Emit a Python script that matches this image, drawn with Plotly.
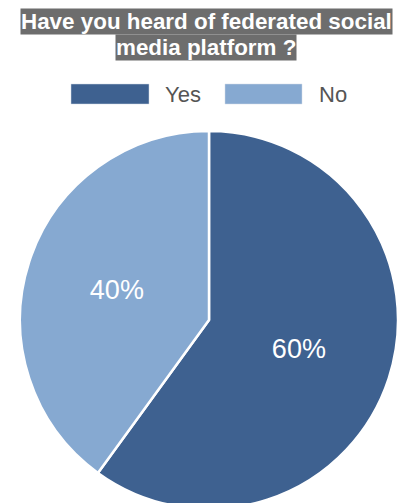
import plotly.graph_objects as go

title_lines = ["Have you heard of federated social", "media platform ?"]
categories = ["Yes", "No"]
values = [60, 40]
colors = ["#3e6190", "#86a9d1"]

W, H = 412, 512
FONT = "Liberation Sans, Arial, Helvetica, sans-serif"

fig = go.Figure(go.Pie(
    labels=categories,
    values=values,
    sort=False,
    direction="clockwise",
    rotation=0,
    marker=dict(colors=colors, line=dict(color="white", width=2.5)),
    textinfo="percent",
    texttemplate="%{percent:.0%}",
    textposition="inside",
    insidetextorientation="horizontal",
    textfont=dict(color="white", size=27, family=FONT),
    hoverinfo="label+percent",
    showlegend=False,
    domain=dict(x=[20 / W, 398 / W], y=[(H - 509) / H, (H - 131) / H]),
))

annotations = []
# title lines with grey highlight
title_y = [21.5, 47]
for txt, yy in zip(title_lines, title_y):
    annotations.append(dict(
        text="<b>" + txt + "</b>", x=0.5, xref="paper", xanchor="center",
        y=1 - yy / H, yref="paper", yanchor="middle", showarrow=False,
        font=dict(size=22.4, color="white", family=FONT),
        bgcolor="#6d6d6d", borderpad=0,
    ))

# manual legend
shapes = []
leg_boxes = [(71, 149), (225, 302)]
leg_text_x = [163, 317]
for cat, col, (x0, x1), tx in zip(categories, colors, leg_boxes, leg_text_x):
    shapes.append(dict(type="rect", xref="paper", yref="paper",
                       x0=x0 / W, x1=x1 / W, y0=1 - 104 / H, y1=1 - 84 / H,
                       fillcolor=col, line=dict(width=0.5, color="#d0d8e4")))
    annotations.append(dict(
        text=cat, x=tx / W, xref="paper", xanchor="left",
        y=1 - 94 / H, yref="paper", yanchor="middle", showarrow=False,
        font=dict(size=22, color="#555555", family=FONT),
    ))

fig.update_layout(
    width=W, height=H,
    margin=dict(l=0, r=0, t=0, b=0),
    paper_bgcolor="white", plot_bgcolor="white",
    annotations=annotations, shapes=shapes,
    showlegend=False,
)

fig.write_html(
    "out.html",
    post_script="document.documentElement.style.overflow='hidden';document.body.style.overflow='hidden';document.body.style.margin='0';",
)
